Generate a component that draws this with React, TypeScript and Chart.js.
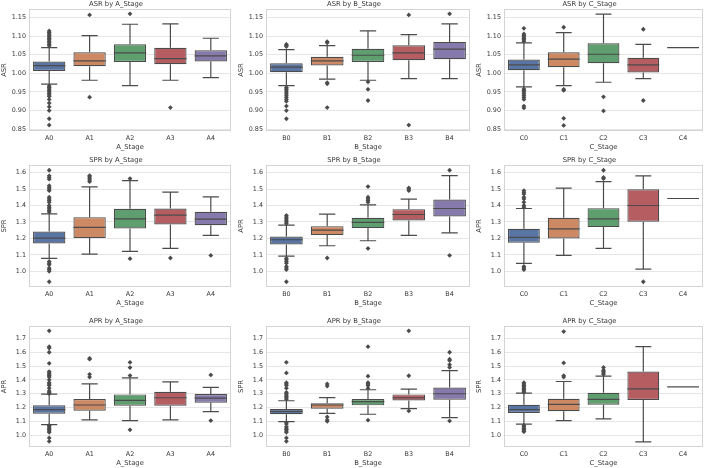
import { useEffect, useRef } from 'react';
import { Chart, registerables } from 'chart.js';

Chart.register(...registerables);

type Box = { lo: number; q1: number; med: number; q3: number; hi: number; out: number[] };

const A_STAGES = ['A0', 'A1', 'A2', 'A3', 'A4'];
const B_STAGES = ['B0', 'B1', 'B2', 'B3', 'B4'];
const C_STAGES = ['C0', 'C1', 'C2', 'C3', 'C4'];

const ASR_TICKS = [0.85, 0.9, 0.95, 1.0, 1.05, 1.1, 1.15];
const SPR_TICKS = [1.0, 1.1, 1.2, 1.3, 1.4, 1.5, 1.6];
const APR_TICKS = [1.0, 1.1, 1.2, 1.3, 1.4, 1.5, 1.6, 1.7];

// ---- ASR ----
const ASR_BY_A: Box[] = [
  { lo: 0.971, q1: 1.0066, med: 1.021, q3: 1.0317, hi: 1.069, out: [1.074, 1.078, 1.082, 1.086, 1.09, 1.094, 1.098, 1.102, 1.106, 1.11, 1.114, 0.966, 0.962, 0.958, 0.954, 0.95, 0.946, 0.942, 0.938, 0.93, 0.92, 0.91, 0.9, 0.878, 0.861] },
  { lo: 0.9815, q1: 1.0192, med: 1.0335, q3: 1.0568, hi: 1.1016, out: [1.157, 0.936] },
  { lo: 0.967, q1: 1.0308, med: 1.055, q3: 1.0783, hi: 1.132, out: [1.16] },
  { lo: 0.9815, q1: 1.0245, med: 1.0398, q3: 1.0685, hi: 1.133, out: [0.908] },
  { lo: 0.9887, q1: 1.0317, med: 1.047, q3: 1.062, hi: 1.0944, out: [] },
];
const ASR_BY_B: Box[] = [
  { lo: 0.967, q1: 1.003, med: 1.0165, q3: 1.0272, hi: 1.064, out: [1.072, 1.075, 1.078, 0.962, 0.958, 0.955, 0.95, 0.945, 0.94, 0.935, 0.93, 0.925, 0.912, 0.9, 0.878] },
  { lo: 0.9842, q1: 1.021, med: 1.0335, q3: 1.0443, hi: 1.0747, out: [1.082, 1.085, 0.975, 0.9717, 0.908] },
  { lo: 0.9815, q1: 1.0308, med: 1.0487, q3: 1.0658, hi: 1.114, out: [0.977, 0.957, 0.927] },
  { lo: 0.986, q1: 1.0353, med: 1.055, q3: 1.0756, hi: 1.104, out: [1.157, 0.861] },
  { lo: 0.986, q1: 1.038, med: 1.065, q3: 1.0846, hi: 1.133, out: [1.16] },
];
const ASR_BY_C: Box[] = [
  { lo: 0.9636, q1: 1.0084, med: 1.0228, q3: 1.037, hi: 1.082, out: [1.086, 1.09, 1.094, 1.098, 1.102, 1.106, 1.121, 0.958, 0.954, 0.95, 0.945, 0.94, 0.935, 0.93, 0.912, 0.907] },
  { lo: 0.967, q1: 1.0167, med: 1.038, q3: 1.0568, hi: 1.1097, out: [1.124, 0.957, 0.954, 0.879, 0.86] },
  { lo: 0.976, q1: 1.0272, med: 1.0514, q3: 1.081, hi: 1.159, out: [0.937, 0.899] },
  { lo: 0.986, q1: 1.0022, med: 1.0228, q3: 1.0416, hi: 1.078, out: [1.1186, 0.927] },
  { lo: 1.069, q1: 1.069, med: 1.069, q3: 1.069, hi: 1.069, out: [] },
];

// ---- SPR ----
const SPR_BY_A: Box[] = [
  { lo: 1.0788, q1: 1.1697, med: 1.202, q3: 1.2424, hi: 1.3495, out: [1.36, 1.37, 1.38, 1.39, 1.4, 1.42, 1.43, 1.44, 1.45, 1.49, 1.5, 1.51, 1.52, 1.56, 1.57, 1.58, 1.614, 1.06, 1.05, 1.04, 1.02, 1.01, 1.0, 0.937] },
  { lo: 1.105, q1: 1.202, med: 1.2667, q3: 1.3293, hi: 1.513, out: [1.545, 1.555, 1.565, 1.575, 1.582] },
  { lo: 1.121, q1: 1.2606, med: 1.319, q3: 1.38, hi: 1.5515, out: [1.5636, 1.0768] },
  { lo: 1.139, q1: 1.285, med: 1.341, q3: 1.382, hi: 1.481, out: [1.081] },
  { lo: 1.218, q1: 1.2808, med: 1.3172, q3: 1.3616, hi: 1.4525, out: [1.097] },
];
const SPR_BY_B: Box[] = [
  { lo: 1.093, q1: 1.1636, med: 1.192, q3: 1.212, hi: 1.281, out: [1.29, 1.3, 1.31, 1.32, 1.33, 1.34, 1.079, 1.07, 1.06, 1.05, 1.03, 1.02, 1.01, 0.937] },
  { lo: 1.1556, q1: 1.2202, med: 1.2505, q3: 1.2747, hi: 1.3475, out: [1.081] },
  { lo: 1.1859, q1: 1.2626, med: 1.297, q3: 1.3253, hi: 1.404, out: [1.42, 1.43, 1.44, 1.45, 1.515, 1.139] },
  { lo: 1.218, q1: 1.309, med: 1.3455, q3: 1.3778, hi: 1.4384, out: [1.49, 1.5, 1.507] },
  { lo: 1.234, q1: 1.3333, med: 1.3818, q3: 1.4364, hi: 1.5818, out: [1.614, 1.097] },
];
const SPR_BY_C: Box[] = [
  { lo: 1.0485, q1: 1.1737, med: 1.206, q3: 1.2586, hi: 1.3818, out: [1.39, 1.4, 1.42, 1.44, 1.45, 1.47, 1.48, 1.49, 1.03, 1.02, 1.01] },
  { lo: 1.097, q1: 1.2, med: 1.2586, q3: 1.3253, hi: 1.505, out: [] },
  { lo: 1.139, q1: 1.2687, med: 1.3192, q3: 1.3838, hi: 1.5455, out: [1.563, 1.57, 1.614] },
  { lo: 1.014, q1: 1.301, med: 1.4, q3: 1.499, hi: 1.58, out: [0.937] },
  { lo: 1.4424, q1: 1.4424, med: 1.4424, q3: 1.4424, hi: 1.4424, out: [] },
];

// ---- APR ----
const APR_BY_A: Box[] = [
  { lo: 1.0765, q1: 1.1556, med: 1.1844, q3: 1.2156, hi: 1.297, out: [1.3, 1.31, 1.32, 1.34, 1.36, 1.37, 1.38, 1.4, 1.42, 1.43, 1.44, 1.45, 1.46, 1.52, 1.6, 1.63, 1.64, 1.755, 1.07, 1.06, 1.05, 1.04, 1.03, 1.02, 0.98, 0.955] },
  { lo: 1.11, q1: 1.177, med: 1.218, q3: 1.261, hi: 1.3715, out: [1.42, 1.44, 1.55, 1.556] },
  { lo: 1.105, q1: 1.213, med: 1.2515, q3: 1.2947, hi: 1.4146, out: [1.431, 1.489, 1.527, 1.038] },
  { lo: 1.11, q1: 1.213, med: 1.2707, q3: 1.314, hi: 1.386, out: [] },
  { lo: 1.17, q1: 1.2347, med: 1.2683, q3: 1.297, hi: 1.345, out: [1.436, 1.105] },
];
const APR_BY_B: Box[] = [
  { lo: 1.098, q1: 1.1508, med: 1.1724, q3: 1.1892, hi: 1.249, out: [1.26, 1.27, 1.28, 1.29, 1.3, 1.31, 1.34, 1.36, 1.37, 1.38, 1.45, 1.527, 1.09, 1.08, 1.06, 1.05, 1.04, 1.03, 1.02, 0.98, 0.955] },
  { lo: 1.158, q1: 1.1916, med: 1.218, q3: 1.23, hi: 1.271, out: [1.355, 1.37, 1.132, 1.11, 1.1] },
  { lo: 1.151, q1: 1.2156, med: 1.242, q3: 1.261, hi: 1.3283, out: [1.34, 1.36, 1.37, 1.38, 1.427, 1.64, 1.108] },
  { lo: 1.1916, q1: 1.2515, med: 1.2707, q3: 1.2947, hi: 1.333, out: [1.755, 1.43, 1.175] },
  { lo: 1.127, q1: 1.2563, med: 1.2995, q3: 1.345, hi: 1.4674, out: [1.49, 1.51, 1.54, 1.55, 1.6, 1.103] },
];
const APR_BY_C: Box[] = [
  { lo: 1.079, q1: 1.1604, med: 1.184, q3: 1.2204, hi: 1.3043, out: [1.31, 1.32, 1.33, 1.34, 1.35, 1.36, 1.37, 1.38, 1.07, 1.06, 1.05, 1.04, 1.03, 1.025] },
  { lo: 1.105, q1: 1.1724, med: 1.2228, q3: 1.2635, hi: 1.3883, out: [1.42, 1.43, 1.5225, 1.75] },
  { lo: 1.117, q1: 1.2204, med: 1.2587, q3: 1.3067, hi: 1.4266, out: [1.44, 1.45, 1.46, 1.47, 1.49] },
  { lo: 0.9518, q1: 1.2539, med: 1.3355, q3: 1.4602, hi: 1.64, out: [] },
  { lo: 1.35, q1: 1.35, med: 1.35, q3: 1.35, hi: 1.35, out: [] },
];

const BOX_COLORS = ['#5875a4', '#cc8963', '#5f9e6e', '#b55d60', '#857aab'];
const LINE_GREY = '#4b4b4b';
const TEXT = '#383838';
const GRID = '#e6e6e6';
const FRAME = '#d4d4d4';
const FONT = 'DejaVu Sans';

// plot-area geometry of the 3x3 grid
const COLS = [
  { left: 29, width: 203 },
  { left: 266, width: 205 },
  { left: 504, width: 200 },
];
const ROWS = [
  { top: 9, height: 122, min: 0.845, max: 1.173, ticks: ASR_TICKS, decimals: 2, metric: 'ASR' },
  { top: 165, height: 122, min: 0.905, max: 1.646, ticks: SPR_TICKS, decimals: 1, metric: 'SPR' },
  { top: 326, height: 121, min: 0.914, max: 1.79, ticks: APR_TICKS, decimals: 1, metric: 'APR' },
];
const Y_LABELS = [
  ['ASR', 'ASR', 'ASR'],
  ['SPR', 'APR', 'APR'],
  ['APR', 'SPR', 'SPR'],
];
const GROUPS = [
  { name: 'A_Stage', labels: A_STAGES },
  { name: 'B_Stage', labels: B_STAGES },
  { name: 'C_Stage', labels: C_STAGES },
];
const GRID_DATA: Box[][][] = [
  [ASR_BY_A, ASR_BY_B, ASR_BY_C],
  [SPR_BY_A, SPR_BY_B, SPR_BY_C],
  [APR_BY_A, APR_BY_B, APR_BY_C],
];

const Y_AXIS_W = 29;
const TITLE_H = 9;
const X_AXIS_H = 24;
const RIGHT_PAD = 3;

type PanelProps = { row: number; col: number };

function BoxPanel({ row, col }: PanelProps) {
  const ref = useRef<HTMLCanvasElement | null>(null);
  const r = ROWS[row];
  const c = COLS[col];
  const g = GROUPS[col];
  const boxes = GRID_DATA[row][col];
  const width = Y_AXIS_W + c.width + RIGHT_PAD;
  const height = TITLE_H + r.height + X_AXIS_H;

  useEffect(() => {
    const canvas = ref.current;
    if (!canvas) return;

    const framePlugin = {
      id: 'axesFrame',
      beforeDatasetsDraw(chart: any) {
        const { ctx, chartArea: a } = chart;
        ctx.save();
        ctx.strokeStyle = FRAME;
        ctx.lineWidth = 1;
        ctx.strokeRect(Math.round(a.left) + 0.5, Math.round(a.top) + 0.5, Math.round(a.right - a.left) - 1, Math.round(a.bottom - a.top) - 1);
        ctx.restore();
      },
    };

    const whiskerPlugin = {
      id: 'boxWhiskers',
      afterDatasetsDraw(chart: any) {
        const meta = chart.getDatasetMeta(0);
        const ys = chart.scales.y;
        const ctx = chart.ctx;
        ctx.save();
        ctx.strokeStyle = LINE_GREY;
        ctx.lineWidth = 1.2;
        ctx.lineCap = 'butt';
        boxes.forEach((b, i) => {
          const bar = meta.data[i];
          const cx = bar.x;
          const half = bar.width / 2;
          const pLo = ys.getPixelForValue(b.lo);
          const pQ1 = ys.getPixelForValue(b.q1);
          const pMed = ys.getPixelForValue(b.med);
          const pQ3 = ys.getPixelForValue(b.q3);
          const pHi = ys.getPixelForValue(b.hi);
          ctx.beginPath();
          if (b.hi > b.q3) {
            ctx.moveTo(cx, pQ3);
            ctx.lineTo(cx, pHi);
            ctx.moveTo(cx - half / 2, pHi);
            ctx.lineTo(cx + half / 2, pHi);
          }
          if (b.lo < b.q1) {
            ctx.moveTo(cx, pQ1);
            ctx.lineTo(cx, pLo);
            ctx.moveTo(cx - half / 2, pLo);
            ctx.lineTo(cx + half / 2, pLo);
          }
          ctx.moveTo(cx - half, pMed);
          ctx.lineTo(cx + half, pMed);
          ctx.stroke();
        });
        ctx.restore();
      },
    };

    const tickFont = { family: FONT, size: 6.4 };
    const labelFont = { family: FONT, size: 6.8 };

    const chart = new Chart(canvas, {
      type: 'bar',
      data: {
        labels: g.labels,
        datasets: [
          {
            type: 'bar',
            data: boxes.map((b) => [b.q1, b.q3]),
            backgroundColor: BOX_COLORS,
            borderColor: LINE_GREY,
            borderWidth: 1.2,
            borderSkipped: false,
            categoryPercentage: 0.8,
            barPercentage: 1.0,
            order: 2,
          } as any,
          {
            type: 'scatter',
            data: boxes.flatMap((b, i) => b.out.map((v) => ({ x: g.labels[i], y: v }))),
            pointStyle: 'rectRot',
            pointRadius: 2.4,
            backgroundColor: LINE_GREY,
            borderColor: LINE_GREY,
            borderWidth: 0,
            showLine: false,
            order: 1,
          } as any,
        ],
      },
      options: {
        animation: false,
        responsive: false,
        maintainAspectRatio: false,
        events: [],
        layout: { padding: { top: 0, right: RIGHT_PAD, bottom: 0, left: 0 } },
        plugins: {
          legend: { display: false },
          tooltip: { enabled: false },
          title: {
            display: true,
            text: `${r.metric} by ${g.name}`,
            color: TEXT,
            font: { family: FONT, size: 6.8, weight: 'normal', lineHeight: `${TITLE_H}px` },
            padding: 0,
          },
        },
        scales: {
          x: {
            type: 'category',
            offset: true,
            grid: { display: false, drawTicks: false },
            border: { display: false },
            ticks: { color: TEXT, font: tickFont, padding: 4, maxRotation: 0, autoSkip: false },
            title: { display: true, text: g.name, color: TEXT, font: labelFont, padding: { top: 0, bottom: 4 } },
            afterFit: (s: any) => {
              s.height = X_AXIS_H;
            },
          },
          y: {
            type: 'linear',
            min: r.min,
            max: r.max,
            grid: { color: GRID, lineWidth: 1, drawTicks: false },
            border: { display: false },
            ticks: {
              color: TEXT,
              font: tickFont,
              padding: 3,
              callback: (v: any) => Number(v).toFixed(r.decimals),
            },
            afterBuildTicks: (s: any) => {
              s.ticks = r.ticks.map((v) => ({ value: v }));
            },
            title: { display: true, text: Y_LABELS[row][col], color: TEXT, font: labelFont, padding: { top: 0.5, bottom: 0 } },
            afterFit: (s: any) => {
              s.width = Y_AXIS_W;
            },
          },
        },
      } as any,
      plugins: [framePlugin, whiskerPlugin],
    });
    return () => chart.destroy();
  }, [row, col]);

  return (
    <canvas
      ref={ref}
      width={width}
      height={height}
      style={{
        position: 'absolute',
        left: c.left - Y_AXIS_W,
        top: r.top - TITLE_H,
        width,
        height,
      }}
    />
  );
}

export default function App() {
  const cells: PanelProps[] = [];
  for (let row = 0; row < 3; row++) for (let col = 0; col < 3; col++) cells.push({ row, col });
  return (
    <div style={{ position: 'absolute', left: 0, top: 0, width: 709, height: 468, background: '#ffffff', overflow: 'hidden' }}>
      {cells.map((p) => (
        <BoxPanel key={`${p.row}-${p.col}`} row={p.row} col={p.col} />
      ))}
    </div>
  );
}
